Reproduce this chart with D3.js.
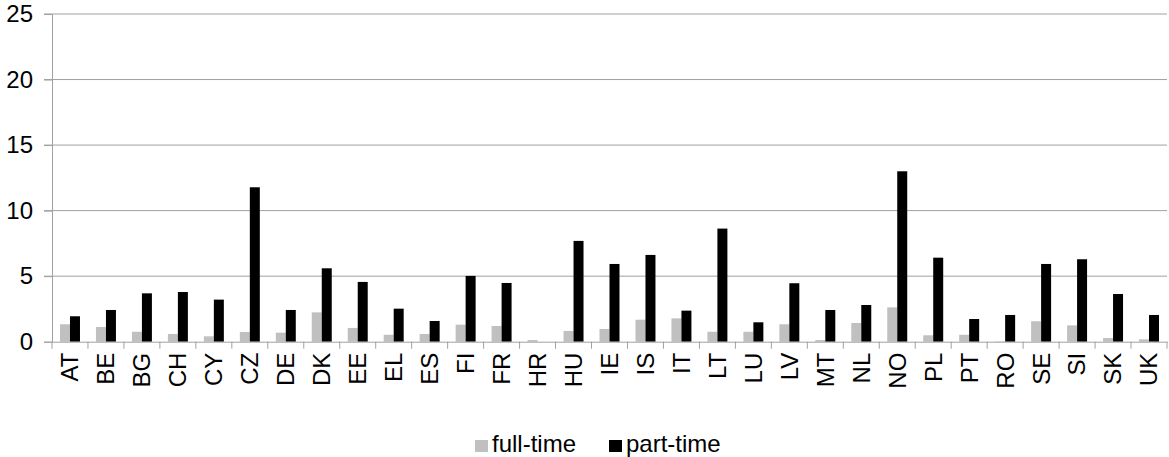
<!DOCTYPE html>
<html><head><meta charset="utf-8">
<script src="https://cdn.jsdelivr.net/npm/d3@7"></script>
<style>body{margin:0;background:#fff;}svg{display:block;font-family:"Liberation Sans",Arial,sans-serif;}</style>
</head><body><svg id="c" width="1169" height="457"></svg>
<script>
const categories = ["AT","BE","BG","CH","CY","CZ","DE","DK","EE","EL","ES","FI","FR","HR","HU","IE","IS","IT","LT","LU","LV","MT","NL","NO","PL","PT","RO","SE","SI","SK","UK"];
const fullTime = [1.33,1.12,0.76,0.59,0.41,0.74,0.69,2.24,1.05,0.53,0.59,1.3,1.2,0.13,0.82,0.97,1.68,1.78,0.76,0.76,1.33,0.13,1.43,2.62,0.49,0.53,0.03,1.56,1.25,0.28,0.18];
const partTime = [1.94,2.42,3.69,3.79,3.21,11.78,2.42,5.6,4.56,2.52,1.58,5.02,4.48,0,7.69,5.93,6.62,2.37,8.63,1.48,4.46,2.42,2.8,13.0,6.41,1.73,2.04,5.93,6.29,3.64,2.04];
const yTicks = [0,5,10,15,20,25];
const seriesNames = ["full-time","part-time"];
const colors = ["#c0c0c0","#000000"];

const svg = d3.select("#c");
const mLeft = 52, mRight = 1167, mTop = 14, mBottom = 341.7;
const FS = 24;
const x = d3.scaleBand().domain(categories).range([mLeft, mRight]).paddingInner(0).paddingOuter(0);
const y = d3.scaleLinear().domain([0,25]).range([mBottom, mTop]);
const xs = d3.scaleBand().domain(seriesNames).range([0, x.bandwidth()]).paddingInner(0).paddingOuter(0.8);

// gridlines
svg.append("g").selectAll("line").data(yTicks.filter(d=>d>0)).join("line")
  .attr("x1", mLeft-8).attr("x2", mRight).attr("y1", d=>y(d)).attr("y2", d=>y(d))
  .attr("stroke", "#a0a0a0").attr("stroke-width", 1);

// y axis
const yAxis = svg.append("g").attr("transform", `translate(${mLeft},0)`)
  .call(d3.axisLeft(y).tickValues(yTicks).tickSize(8).tickPadding(11));
yAxis.select(".domain").attr("stroke", "#a0a0a0");
yAxis.selectAll(".tick line").attr("stroke", "#a0a0a0");
yAxis.selectAll("text").attr("font-size", FS).attr("fill", "#000").attr("font-family", "Liberation Sans, Arial, sans-serif");

// bars
const data = categories.map((c,i)=>({c, vals:[fullTime[i], partTime[i]]}));
const g = svg.append("g");
g.selectAll("g").data(data).join("g")
  .attr("transform", d=>`translate(${x(d.c)},0)`)
  .selectAll("rect").data(d=>d.vals.map((v,j)=>({s:seriesNames[j], v, j}))).join("rect")
  .attr("x", d=>xs(d.s)).attr("width", xs.bandwidth())
  .attr("y", d=>y(d.v)).attr("height", d=>y(0)-y(d.v))
  .attr("fill", d=>colors[d.j]);

// x axis
const xAxis = svg.append("g").attr("transform", `translate(0,${mBottom})`)
  .call(d3.axisBottom(x).tickSize(0).tickPadding(0));
xAxis.select(".domain").attr("stroke", "#a0a0a0");
const bounds = categories.map(c=>x(c)).concat([mRight]);
xAxis.append("g").selectAll("line").data(bounds).join("line")
  .attr("x1", d=>d).attr("x2", d=>d).attr("y1", 0).attr("y2", 7)
  .attr("stroke", "#a0a0a0");
xAxis.selectAll(".tick text")
  .attr("font-size", FS).attr("fill", "#000").attr("font-family", "Liberation Sans, Arial, sans-serif")
  .attr("text-anchor", "end").attr("dy", "0.35em")
  .attr("transform", "translate(0,11) rotate(-90)")
  .attr("x", 0).attr("y", 0);

// legend
const legend = svg.append("g");
const lx = [475, 609];
seriesNames.forEach((s,i)=>{
  legend.append("rect").attr("x", lx[i]).attr("y", 440).attr("width", 13).attr("height", 12).attr("fill", colors[i]);
  legend.append("text").attr("x", lx[i]+17).attr("y", 452).attr("font-size", FS).attr("fill","#000").text(s);
});
</script></body></html>
